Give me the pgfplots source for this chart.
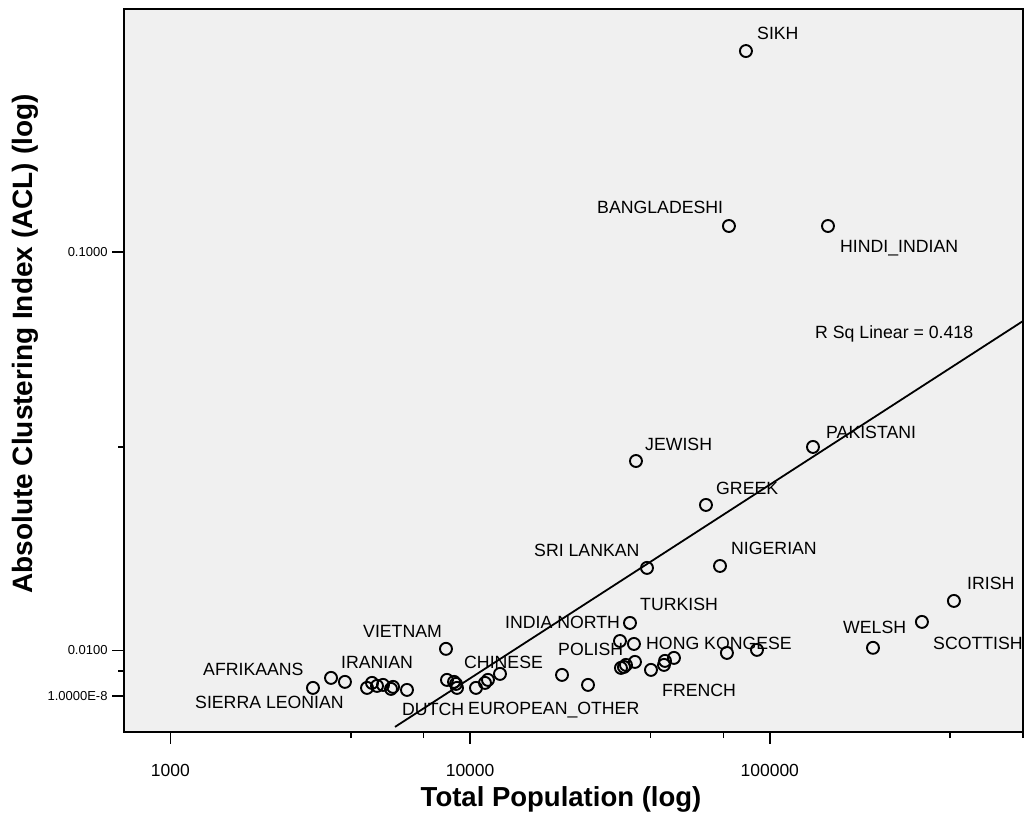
\documentclass[border=0pt]{standalone}
\usepackage{pgfplots}
\pgfplotsset{compat=1.18}
\usetikzlibrary{calc}
\usepackage{fontspec}
\setmainfont{Liberation Sans}
\definecolor{plotbg}{HTML}{F0F0F0}
\begin{document}
\begin{tikzpicture}
\begin{axis}[
  scale only axis,
  width=899pt, height=723pt,
  xmode=log, ymode=log,
  log basis x=10, log basis y=10,
  xmin=700, xmax=700000,
  ymin=0.00624, ymax=0.4072,
  axis background/.style={fill=plotbg},
  axis line style={black, line width=1.3pt},
  tick align=outside,
  xtick pos=lower, ytick pos=left,
  major tick length=12pt,
  minor tick length=6pt,
  every tick/.style={black, line width=1.6pt},
  xtick={1000,10000,100000},
  xticklabels={1000,10000,100000},
  minor xtick={4000,7000,40000,70000,400000,700000},
  ytick={0.00769,0.01,0.1},
  yticklabels={1.0000E-8,0.0100,0.1000},
  minor ytick={0.00889,0.0324},
  xticklabel style={font=\fontsize{17.5}{19}\selectfont, anchor=north, yshift=-17pt},
  yticklabel style={font=\fontsize{13}{15}\selectfont, anchor=east, xshift=-1pt},
  /pgf/number format/assume math mode=true,
  xlabel={Total Population (log)},
  ylabel={Absolute Clustering Index (ACL) (log)},
  xlabel style={font=\fontsize{27.5}{31}\selectfont\bfseries, at={(axis description cs:0.4861,-0.0935)}, anchor=center},
  ylabel style={font=\fontsize{28}{32}\selectfont\bfseries, at={(axis description cs:-0.110,0.5367)}, anchor=center, rotate=0},
  clip=true,
]
% data points: total population, ACL
\addplot[only marks, mark=o, mark size=6pt, mark options={line width=1.9pt, black}] coordinates {
(83270,0.3194) (73070,0.1162) (156400,0.1162) (35770,0.02988) (139370,0.03241)
(61240,0.02318) (38930,0.01611) (68210,0.01629) (411600,0.01331) (321900,0.01179)
(221000,0.01015) (90630,0.01003) (71950,0.009856) (34160,0.01172) (31630,0.01056)
(35220,0.01038) (35490,0.009357) (33120,0.009196) (31870,0.009038) (32610,0.009090)
(40140,0.008935) (44360,0.009196) (44700,0.009412) (47890,0.009576) (20260,0.008680)
(24740,0.008193) (8308,0.01009) (8372,0.008433) (8836,0.008337) (8973,0.008240)
(9042,0.008052) (10460,0.008052) (11210,0.008288) (11470,0.008433) (12580,0.008730)
(2990,0.008052) (3435,0.008531) (3823,0.008337) (4529,0.008052) (4706,0.008288)
(4890,0.008145) (5121,0.008193) (5445,0.008006) (5530,0.008099) (6157,0.007960)
};
% linear fit
\addplot[black, line width=1.8pt] coordinates {(5615,0.006427) (700000,0.0671)};
\end{axis}
\pgfresetboundingbox
\begin{scope}[shift={($(current axis.south west)+(-124pt,732pt)$)}, x=1pt, y=-1pt,
  every node/.style={font=\fontsize{17.7}{20}\selectfont, inner sep=0pt, anchor=base west, text=black}]
\path[use as bounding box] (0,0) rectangle (1027,812);
\node at (757,39.5) {SIKH};
\node at (597,214) {BANGLADESHI};
\node at (840,253) {HINDI\_INDIAN};
\node at (815,339) {R Sq Linear = 0.418};
\node at (826,438) {PAKISTANI};
\node at (645,450) {JEWISH};
\node at (716,494) {GREEK};
\node at (534,556) {SRI LANKAN};
\node at (731,554) {NIGERIAN};
\node at (640,610) {TURKISH};
\node at (967,589) {IRISH};
\node at (843,633) {WELSH};
\node at (933,649) {SCOTTISH};
\node at (646,649) {HONG KONGESE};
\node at (662,696) {FRENCH};
\node at (505,628) {INDIA NORTH};
\node at (558,655) {POLISH};
\node at (363,637) {VIETNAM};
\node at (341,668) {IRANIAN};
\node at (203,675) {AFRIKAANS};
\node at (464,668) {CHINESE};
\node at (195,708) {SIERRA LEONIAN};
\node at (402,715) {DUTCH};
\node at (468,714) {EUROPEAN\_OTHER};
\end{scope}
\end{tikzpicture}
\end{document}
